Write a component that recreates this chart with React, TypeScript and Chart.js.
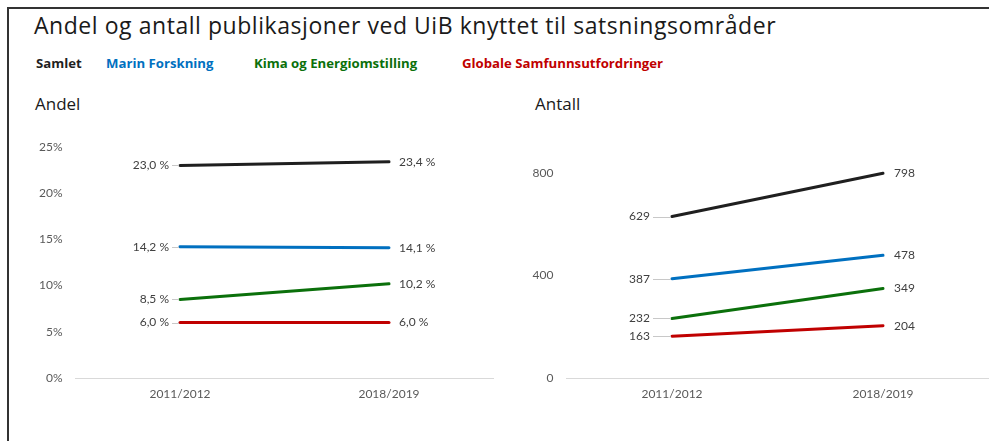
import React, { useEffect, useRef } from 'react';
import { Chart, registerables } from 'chart.js';

Chart.register(...registerables);

const categories = ['2011/2012', '2018/2019'];
const seriesNames = ['Samlet', 'Marin Forskning', 'Kima og Energiomstilling', 'Globale Samfunnsutfordringer'];
const seriesColors = ['#1f1f1f', '#0070C0', '#0B700B', '#C00000'];

const andelSamlet = [23.0, 23.4];
const andelMarin = [14.2, 14.1];
const andelKima = [8.5, 10.2];
const andelGlobale = [6.0, 6.0];

const antallSamlet = [629, 798];
const antallMarin = [387, 478];
const antallKima = [232, 349];
const antallGlobale = [163, 204];

const andelTicks = [0, 5, 10, 15, 20, 25];
const antallTicks = [0, 400, 800];
const andelMax = 25;
const antallMax = 900;

const FONT = 'Lato, "Open Sans", sans-serif';
const HEAD_FONT = '"Open Sans", Lato, sans-serif';

const fmtPct = (v: number) => v.toFixed(1).replace('.', ',') + ' %';
const fmtInt = (v: number) => String(Math.round(v));

function makeLabelPlugin(gapLeft: number, gapRight: number, fmt: (v: number) => string) {
  return {
    id: 'endLabels',
    afterDatasetsDraw(chart: any) {
      const ctx = chart.ctx;
      ctx.save();
      ctx.font = '12px ' + FONT;
      ctx.textBaseline = 'middle';
      chart.data.datasets.forEach((ds: any, i: number) => {
        const meta = chart.getDatasetMeta(i);
        const pts = meta.data;
        if (!pts.length) return;
        const first = pts[0];
        const last = pts[pts.length - 1];
        ctx.strokeStyle = '#c8c8c8';
        ctx.lineWidth = 1;
        ctx.beginPath();
        ctx.moveTo(first.x - gapLeft + 3, Math.round(first.y) + 0.5);
        ctx.lineTo(first.x - 1, Math.round(first.y) + 0.5);
        ctx.stroke();
        ctx.fillStyle = '#404040';
        ctx.textAlign = 'right';
        ctx.fillText(fmt(ds.data[0]), first.x - gapLeft, first.y);
        ctx.textAlign = 'left';
        ctx.fillText(fmt(ds.data[ds.data.length - 1]), last.x + gapRight, last.y);
      });
      ctx.restore();
    },
  };
}

type ChartProps = {
  series: number[][];
  ticks: number[];
  max: number;
  tickFmt: (v: number) => string;
  labelFmt: (v: number) => string;
  gapLeft: number;
  gapRight: number;
  left: number;
  top: number;
  width: number;
  height: number;
  yWidth: number;
  padRight: number;
  padTop: number;
  xHeight: number;
};

function LineChart(p: ChartProps) {
  const ref = useRef<HTMLCanvasElement | null>(null);
  useEffect(() => {
    if (!ref.current) return;
    const chart = new Chart(ref.current, {
      type: 'line',
      data: {
        labels: categories,
        datasets: p.series.map((d, i) => ({
          label: seriesNames[i],
          data: d,
          borderColor: seriesColors[i],
          backgroundColor: seriesColors[i],
          borderWidth: 3,
          pointRadius: 0,
          tension: 0,
          borderCapStyle: 'round' as const,
        })),
      },
      options: {
        animation: false,
        responsive: false,
        maintainAspectRatio: false,
        events: [],
        layout: { padding: { top: p.padTop, right: p.padRight, left: 0, bottom: 0 } },
        plugins: {
          legend: { display: false },
          title: { display: false },
          tooltip: { enabled: false },
        },
        scales: {
          x: {
            type: 'category',
            offset: true,
            grid: { display: false, drawTicks: false },
            border: { display: true, color: '#d9d9d9', width: 1 },
            ticks: {
              color: '#595959',
              font: { family: FONT, size: 12 },
              padding: 9,
              maxRotation: 0,
            },
            afterFit: (s: any) => {
              s.height = p.xHeight;
            },
          },
          y: {
            type: 'linear',
            min: 0,
            max: p.max,
            grid: { display: false, drawTicks: false },
            border: { display: false },
            ticks: {
              color: '#595959',
              font: { family: FONT, size: 12 },
              padding: 13,
              callback: (v: any) => p.tickFmt(Number(v)),
            },
            afterBuildTicks: (s: any) => {
              s.ticks = p.ticks.map((v) => ({ value: v }));
            },
            afterFit: (s: any) => {
              s.width = p.yWidth;
            },
          },
        },
      },
      plugins: [makeLabelPlugin(p.gapLeft, p.gapRight, p.labelFmt)],
    });
    return () => chart.destroy();
  }, []);
  return (
    <canvas
      ref={ref}
      width={p.width}
      height={p.height}
      style={{ position: 'absolute', left: p.left, top: p.top, width: p.width, height: p.height }}
    />
  );
}

const legendX = [36, 106, 254, 462];

export default function App() {
  return (
    <div
      style={{
        position: 'fixed',
        left: 0,
        top: 0,
        right: 0,
        bottom: 0,
        background: '#fff',
        overflow: 'hidden',
        fontFamily: HEAD_FONT,
      }}
    >
      <div style={{ position: 'absolute', left: 7, top: 7, right: 0, height: 2, background: '#333' }} />
      <div style={{ position: 'absolute', left: 7, top: 7, bottom: 0, width: 2, background: '#333' }} />
      <div
        style={{
          position: 'absolute',
          left: 34,
          top: 12,
          fontSize: 23,
          letterSpacing: 0.55,
          lineHeight: 1.2,
          color: '#1a1a1a',
          whiteSpace: 'nowrap',
        }}
      >
        Andel og antall publikasjoner ved UiB knyttet til satsningsområder
      </div>
      {seriesNames.map((n, i) => (
        <div
          key={n}
          style={{
            position: 'absolute',
            left: legendX[i],
            top: 56,
            fontSize: 13.2,
            fontWeight: 700,
            lineHeight: 1.2,
            color: seriesColors[i],
            whiteSpace: 'nowrap',
          }}
        >
          {n}
        </div>
      ))}
      <div style={{ position: 'absolute', left: 35, top: 94, fontSize: 17, lineHeight: 1.2, color: '#1a1a1a' }}>
        Andel
      </div>
      <div style={{ position: 'absolute', left: 535, top: 94, fontSize: 17, lineHeight: 1.2, color: '#1a1a1a' }}>
        Antall
      </div>
      <LineChart
        series={[andelSamlet, andelMarin, andelKima, andelGlobale]}
        ticks={andelTicks}
        max={andelMax}
        tickFmt={(v) => v + '%'}
        labelFmt={fmtPct}
        gapLeft={11}
        gapRight={10}
        left={30}
        top={120}
        width={470}
        height={300}
        yWidth={45.5}
        padRight={6.5}
        padTop={27}
        xHeight={42}
      />
      <LineChart
        series={[antallSamlet, antallMarin, antallKima, antallGlobale]}
        ticks={antallTicks}
        max={antallMax}
        tickFmt={(v) => String(v)}
        labelFmt={fmtInt}
        gapLeft={22}
        gapRight={11}
        left={520}
        top={120}
        width={469}
        height={300}
        yWidth={46.5}
        padRight={0.5}
        padTop={27}
        xHeight={42}
      />
    </div>
  );
}
